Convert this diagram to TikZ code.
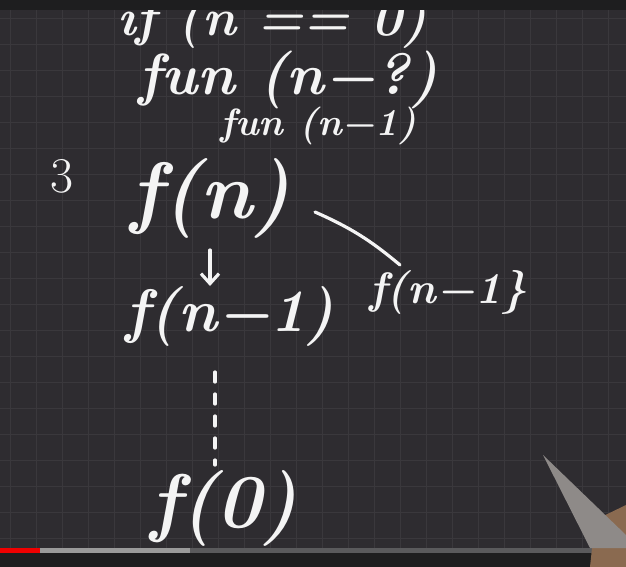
\documentclass[tikz,border=0pt]{standalone}
\usepackage{fontspec}
\usetikzlibrary{arrows.meta}
\definecolor{board}{HTML}{2E2C30}
\definecolor{gridc}{HTML}{3A383C}
\definecolor{topbar}{HTML}{1E1E1F}
\definecolor{chalk}{HTML}{F4F4F4}
\definecolor{ytred}{HTML}{F00000}
\definecolor{ytgrey}{HTML}{9A9A9A}
\definecolor{ytdark}{HTML}{5A5A5C}
\definecolor{pen}{HTML}{8E8A88}
\definecolor{skin}{HTML}{8A6A50}
\begin{document}
\begin{tikzpicture}[x=1pt,y=-1pt,
  hand/.style={text=chalk,inner sep=0pt,font=\fontsize{#1}{#1}\selectfont\bfseries\itshape},
  stroke/.style={draw=chalk,line width=3.2pt,line cap=round}]
\useasboundingbox (0,0) rectangle (626,567);
\fill[board] (0,0) rectangle (626,567);
\begin{scope}
\clip (0,10) rectangle (626,548);
\foreach \x in {10,36,...,626} \draw[gridc,line width=0.7pt] (\x,0) -- (\x,567);
\foreach \y in {18,44,...,567} \draw[gridc,line width=0.7pt] (0,\y) -- (626,\y);
\node[hand=52] (ifl) at (272,22) {if (n == 0)};
\end{scope}
\fill[topbar] (0,0) rectangle (626,10);
\node[hand=58] (fun1) at (288,80) {fun (n−?)};
\node[hand=38] (fun2) at (318,126) {fun (n−1)};
\node[text=chalk,inner sep=0pt,font=\fontsize{50}{50}\selectfont] (three) at (62,176) {3};
\node[hand=80] (fn) at (210,198) {f(n)};
\node[hand=60] (fn1) at (230,316) {f(n−1)};
\node[hand=44] (fn1b) at (448,292) {f(n−1\}};
\node[hand=76] (f0) at (224,508) {f(0)};
\draw[stroke,-{Straight Barb[length=10pt,width=18pt]}] (210,250) coordinate (a1) -- (210,286) coordinate (a2);
\draw[stroke] (315,212) coordinate (b1) to[bend left=8] (400,265) coordinate (b2);
\draw[stroke,dash pattern=on 10pt off 12pt] (215,372) coordinate (c1) -- (215,465) coordinate (c2);
% video progress bar
\fill[ytdark] (0,548) rectangle (626,553);
\fill[ytgrey] (0,548) rectangle (190,553);
\fill[ytred] (0,548) rectangle (40,553);
\fill[topbar] (0,553) rectangle (626,567);
% pen in corner
\fill[skin] (595,520) -- (626,505) -- (626,567) -- (590,567) -- cycle;
\fill[pen] (543,455) -- (626,535) -- (626,548) -- (590,548) -- cycle;
\end{tikzpicture}
\end{document}
